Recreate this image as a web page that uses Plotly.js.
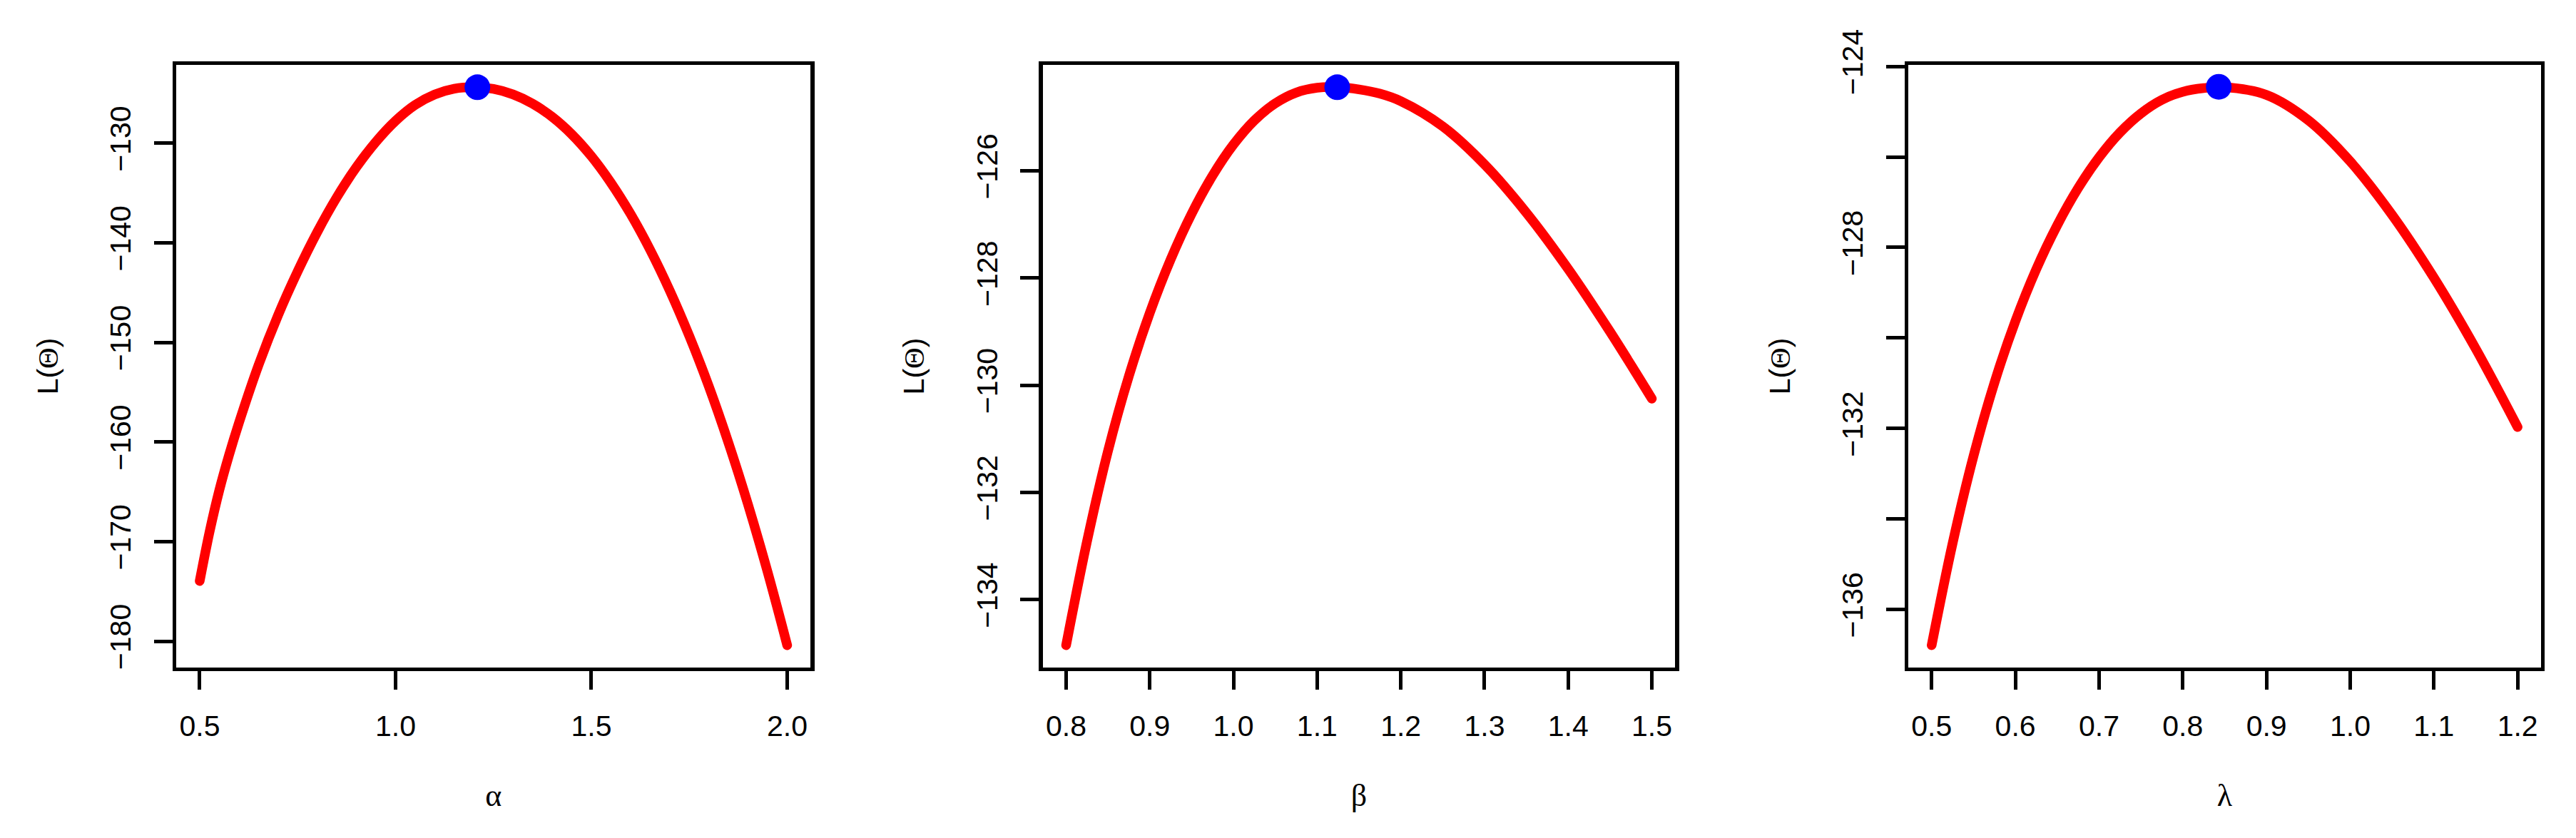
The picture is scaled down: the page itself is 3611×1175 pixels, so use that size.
<!DOCTYPE html>
<html>
<head>
<meta charset="utf-8">
<script src="https://cdn.plot.ly/plotly-3.0.1.min.js"></script>
<style>
html,body{margin:0;padding:0;background:#ffffff;}
#chart{width:3611px;height:1175px;}
.js-line{stroke-linecap:round;stroke-linejoin:round;}
</style>
</head>
<body>
<div id="chart"></div>
<script>
// ---------- Panel 1: alpha ----------
const alphaX = [0.500,0.525,0.550,0.575,0.60,0.65,0.70,0.75,0.80,0.85,0.90,0.95,1.00,1.05,1.10,1.15,1.20,1.25,1.30,1.35,1.40,1.45,1.50,1.55,1.60,1.65,1.70,1.75,1.80,1.85,1.90,1.95,2.00];
const alphaL = [-173.95,-169.05,-164.85,-161.30,-158.10,-152.30,-147.28,-142.88,-138.93,-135.43,-132.41,-129.86,-127.76,-126.16,-125.11,-124.53,-124.38,-124.55,-125.10,-126.03,-127.36,-129.11,-131.31,-133.98,-137.10,-140.70,-144.78,-149.35,-154.42,-160.07,-166.27,-173.05,-180.40];
const alphaHatX = [1.209];
const alphaHatL = [-124.38];
const alphaXTicks = [0.5,1.0,1.5,2.0];
const alphaXLabels = ['0.5','1.0','1.5','2.0'];
const alphaYTicks = [-130,-140,-150,-160,-170,-180];
const alphaYLabels = ['\u2212130','\u2212140','\u2212150','\u2212160','\u2212170','\u2212180'];

// ---------- Panel 2: beta ----------
const betaX = [0.800,0.825,0.850,0.875,0.900,0.925,0.950,0.975,1.000,1.025,1.050,1.075,1.100,1.125,1.150,1.175,1.200,1.250,1.300,1.350,1.400,1.450,1.500];
const betaL = [-134.85,-132.91,-131.23,-129.83,-128.65,-127.65,-126.80,-126.09,-125.51,-125.06,-124.74,-124.54,-124.45,-124.44,-124.48,-124.56,-124.70,-125.17,-125.88,-126.78,-127.83,-129.00,-130.25];
const betaHatX = [1.124];
const betaHatL = [-124.44];
const betaXTicks = [0.8,0.9,1.0,1.1,1.2,1.3,1.4,1.5];
const betaXLabels = ['0.8','0.9','1.0','1.1','1.2','1.3','1.4','1.5'];
const betaYTicks = [-126,-128,-130,-132,-134];
const betaYLabels = ['\u2212126','\u2212128','\u2212130','\u2212132','\u2212134'];

// ---------- Panel 3: lambda ----------
const lambdaX = [0.500,0.525,0.550,0.575,0.600,0.625,0.650,0.675,0.700,0.725,0.750,0.775,0.800,0.825,0.850,0.900,0.950,1.000,1.050,1.100,1.150,1.200];
const lambdaL = [-136.79,-134.54,-132.61,-130.99,-129.63,-128.48,-127.51,-126.69,-126.01,-125.46,-125.04,-124.74,-124.56,-124.48,-124.46,-124.63,-125.19,-126.10,-127.28,-128.67,-130.24,-131.97];
const lambdaHatX = [0.843];
const lambdaHatL = [-124.45];
const lambdaXTicks = [0.5,0.6,0.7,0.8,0.9,1.0,1.1,1.2];
const lambdaXLabels = ['0.5','0.6','0.7','0.8','0.9','1.0','1.1','1.2'];
const lambdaYTicks = [-124,-126,-128,-130,-132,-134,-136];
const lambdaYLabels = ['\u2212124','','\u2212128','','\u2212132','','\u2212136'];

// R-style axis range: data extent padded by 4% on each side
function rRange(arr){
  const mn = Math.min.apply(null, arr), mx = Math.max.apply(null, arr);
  const p = 0.04 * (mx - mn);
  return [mn - p, mx + p];
}

const RED = '#FF0000', BLUE = '#0000FF';
function curve(x, y, xa, ya){
  return {x:x, y:y, xaxis:xa, yaxis:ya, type:'scatter', mode:'lines',
          line:{color:RED, width:13.5, shape:'spline', smoothing:1}, hoverinfo:'skip'};
}
function hat(x, y, xa, ya){
  return {x:x, y:y, xaxis:xa, yaxis:ya, type:'scatter', mode:'markers',
          marker:{color:BLUE, size:36, line:{width:0}}, hoverinfo:'skip'};
}

const data = [
  curve(alphaX, alphaL, 'x', 'y'),    hat(alphaHatX, alphaHatL, 'x', 'y'),
  curve(betaX, betaL, 'x2', 'y2'),     hat(betaHatX, betaHatL, 'x2', 'y2'),
  curve(lambdaX, lambdaL, 'x3', 'y3'), hat(lambdaHatX, lambdaHatL, 'x3', 'y3')
];

const SANS = 'Liberation Sans, Arial, Helvetica, sans-serif';
const SERIF = 'Liberation Serif, Times New Roman, serif';
const FS = 41;

function axCommon(){
  return {showgrid:false, zeroline:false, showline:true, mirror:true,
          linecolor:'#000', linewidth:5.2, ticks:'outside', ticklen:26,
          tickwidth:5, tickcolor:'#000', tickfont:{family:SANS, size:FS, color:'#000'},
          automargin:false, fixedrange:true};
}
function xAx(dom, anchor, vals, labels, arr, title){
  return Object.assign(axCommon(), {domain:dom, anchor:anchor, range:rRange(arr),
    tickmode:'array', tickvals:vals, ticktext:labels, ticklabelstandoff:16,
    title:{text:title, font:{family:SERIF, size:44, color:'#000'}, standoff:60}});
}
function yAx(anchor, vals, labels, arr){
  return Object.assign(axCommon(), {domain:[0,1], anchor:anchor, range:rRange(arr),
    tickmode:'array', tickvals:vals, ticktext:labels, tickangle:-90, ticklabelstandoff:16,
    title:{text:'L(<span style="font-family:Liberation Serif">\u0398</span>)',
           font:{family:SANS, size:FS, color:'#000'}, standoff:54}});
}

const layout = {
  width:3611, height:1175,
  margin:{l:247, r:49, t:91, b:239, pad:0},
  paper_bgcolor:'#ffffff', plot_bgcolor:'#ffffff',
  showlegend:false,
  font:{family:SANS, size:FS, color:'#000'},
  xaxis:  xAx([0, 0.2683], 'y',  alphaXTicks,  alphaXLabels,  alphaX,  '\u03B1'),
  yaxis:  yAx('x',  alphaYTicks,  alphaYLabels,  alphaL),
  xaxis2: xAx([0.3664, 0.6339], 'y2', betaXTicks, betaXLabels, betaX, '\u03B2'),
  yaxis2: yAx('x2', betaYTicks, betaYLabels, betaL),
  xaxis3: xAx([0.7324, 1.0], 'y3', lambdaXTicks, lambdaXLabels, lambdaX, '\u03BB'),
  yaxis3: yAx('x3', lambdaYTicks, lambdaYLabels, lambdaL)
};

Plotly.newPlot('chart', data, layout, {displayModeBar:false, staticPlot:true, responsive:false});
</script>
</body>
</html>
